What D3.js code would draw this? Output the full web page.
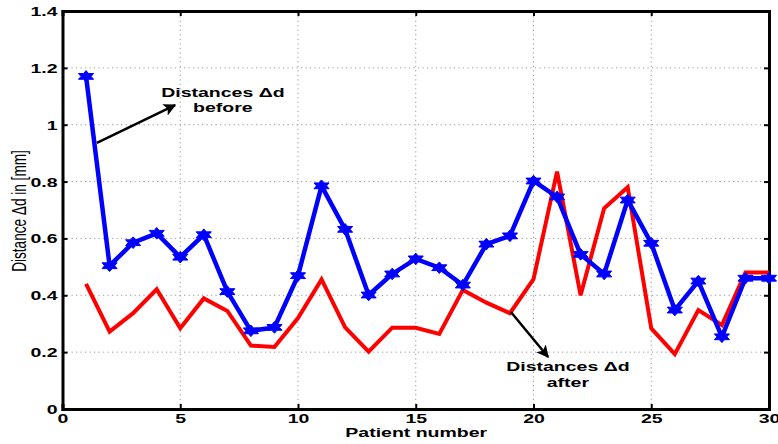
<!DOCTYPE html>
<html>
<head>
<meta charset="utf-8">
<script src="https://cdn.jsdelivr.net/npm/d3@7"></script>
<style>
  html, body { margin: 0; padding: 0; background: #fff; }
  svg { display: block; }
  text { font-family: "Liberation Sans", Arial, sans-serif; }
</style>
</head>
<body>
<svg id="chart" width="778" height="444"></svg>
<script>
// ---- data ----
const patients = d3.range(1, 31);
const before = [1.17, 0.504, 0.585, 0.618, 0.534, 0.613, 0.413, 0.275, 0.287, 0.469,
                0.785, 0.632, 0.401, 0.475, 0.528, 0.497, 0.436, 0.58, 0.609, 0.802,
                0.746, 0.544, 0.475, 0.735, 0.583, 0.348, 0.45, 0.254, 0.46, 0.46];
const after  = [0.44, 0.272, 0.337, 0.421, 0.284, 0.389, 0.345, 0.223, 0.218, 0.32,
                0.456, 0.287, 0.202, 0.286, 0.286, 0.264, 0.419, 0.374, 0.337, 0.457,
                0.835, 0.40, 0.706, 0.78, 0.284, 0.193, 0.348, 0.295, 0.48, 0.48];
const xTicks = [0, 5, 10, 15, 20, 25, 30];
const yTicks = [0, 0.2, 0.4, 0.6, 0.8, 1, 1.2, 1.4];
const xLabel = "Patient number";
const yLabel = "Distance \u0394d in [mm]";
const notes = [
  { lines: ["Distances \u0394d", "before"], tx: 6.81, ty: [1.099, 1.045], from: [1.46, 0.936], to: [4.78, 1.069] },
  { lines: ["Distances \u0394d", "after"],  tx: 21.46, ty: [0.132, 0.078], from: [19.04, 0.341], to: [20.62, 0.183] }
];

// ---- layout ----
const svg = d3.select("#chart");
const SX = 1.5; // horizontal stretch of the original figure
const x = d3.scaleLinear().domain([0, 30]).range([62.5, 769]);
const y = d3.scaleLinear().domain([0, 1.4]).range([409, 11]);
const [x0, x1] = x.range();
const [y0, y1] = y.range();

// grid
const grid = svg.append("g").attr("stroke", "#999").attr("stroke-width", 1).attr("stroke-dasharray", "1.2,3.3");
grid.selectAll(".vg").data(xTicks.filter(t => t > 0 && t < 30)).join("line").attr("class", "vg")
  .attr("x1", d => x(d)).attr("x2", d => x(d)).attr("y1", y0).attr("y2", y1);
grid.selectAll(".hg").data(yTicks.filter(t => t > 0 && t < 1.4)).join("line").attr("class", "hg")
  .attr("y1", d => y(d)).attr("y2", d => y(d)).attr("x1", x0).attr("x2", x1);

// axes via d3 axis (ticks inside)
const fmt = d => d3.format("~g")(d);
const gBottom = svg.append("g").attr("transform", `translate(0,${y0})`)
  .call(d3.axisBottom(x).tickValues(xTicks).tickSize(-5).tickFormat(fmt));
const gLeft = svg.append("g").attr("transform", `translate(${x0},0)`)
  .call(d3.axisLeft(y).tickValues(yTicks).tickSize(-5).tickFormat(fmt));
const gTop = svg.append("g").attr("transform", `translate(0,${y1})`)
  .call(d3.axisTop(x).tickValues(xTicks).tickSize(-5).tickFormat(""));
const gRight = svg.append("g").attr("transform", `translate(${x1},0)`)
  .call(d3.axisRight(y).tickValues(yTicks).tickSize(-5).tickFormat(""));
[gBottom, gLeft, gTop, gRight].forEach(g => {
  g.select(".domain").attr("stroke", "#000").attr("stroke-width", 3);
  g.selectAll(".tick line").attr("stroke", "#000").attr("stroke-width", 2);
});
gBottom.selectAll(".tick text").each(function () {
  d3.select(this).attr("y", null).attr("dy", null)
   .attr("transform", `translate(0,14) scale(${SX},1)`)
   .attr("font-size", 13).attr("font-weight", "bold").attr("fill", "#000")
   .attr("font-family", "Liberation Sans, Arial, sans-serif");
});
gLeft.selectAll(".tick text").each(function () {
  d3.select(this).attr("x", null).attr("dy", null)
   .attr("transform", `translate(-5,4.5) scale(${SX},1)`)
   .attr("font-size", 13).attr("font-weight", "bold").attr("fill", "#000")
   .attr("font-family", "Liberation Sans, Arial, sans-serif");
});

// lines
const line = (vals) => d3.line().x((d, i) => x(patients[i])).y(d => y(d))(vals);
svg.append("path").attr("d", line(after)).attr("fill", "none")
  .attr("stroke", "#ff0000").attr("stroke-width", 4).attr("stroke-linejoin", "miter");
svg.append("path").attr("d", line(before)).attr("fill", "none")
  .attr("stroke", "#0000ff").attr("stroke-width", 4.5).attr("stroke-linejoin", "miter");

// hexagram markers
function hexagram(r) {
  const pts = [];
  for (let k = 0; k < 12; k++) {
    const a = Math.PI / 2 + k * Math.PI / 6;
    const rr = k % 2 === 0 ? r : r / Math.sqrt(3);
    pts.push([Math.cos(a) * rr * SX, -Math.sin(a) * rr]);
  }
  return "M" + pts.map(p => p.join(",")).join("L") + "Z";
}
svg.append("g").selectAll("path").data(before).join("path")
  .attr("transform", (d, i) => `translate(${x(patients[i])},${y(d)})`)
  .attr("d", hexagram(5.8)).attr("fill", "#0000ff").attr("stroke", "#0000ff").attr("stroke-width", 1);

// axis labels
svg.append("text").text(xLabel)
  .attr("transform", `translate(${(x0 + x1) / 2 + 0.5},437) scale(${SX},1)`)
  .attr("text-anchor", "middle").attr("font-size", 13).attr("font-weight", "bold");
svg.append("text").text(yLabel)
  .attr("transform", `translate(26,211) scale(${SX},1) rotate(-90)`)
  .attr("text-anchor", "middle").attr("font-size", 13.6);

// annotations
svg.append("defs").append("marker").attr("id", "ah")
  .attr("viewBox", "0 0 10 10").attr("refX", 9).attr("refY", 5)
  .attr("markerWidth", 5).attr("markerHeight", 5).attr("markerUnits", "strokeWidth")
  .attr("orient", "auto")
  .append("path").attr("d", "M0,0L10,5L0,10L2.5,5Z").attr("fill", "#000");
notes.forEach(n => {
  svg.append("line")
    .attr("x1", x(n.from[0])).attr("y1", y(n.from[1]))
    .attr("x2", x(n.to[0])).attr("y2", y(n.to[1]))
    .attr("stroke", "#000").attr("stroke-width", 2.5).attr("marker-end", "url(#ah)");
  n.lines.forEach((s, i) => {
    svg.append("text").text(s)
      .attr("transform", `translate(${x(n.tx)},${y(n.ty[i])}) scale(${SX},1)`)
      .attr("text-anchor", "middle").attr("font-size", 13).attr("font-weight", "bold");
  });
});
</script>
</body>
</html>
